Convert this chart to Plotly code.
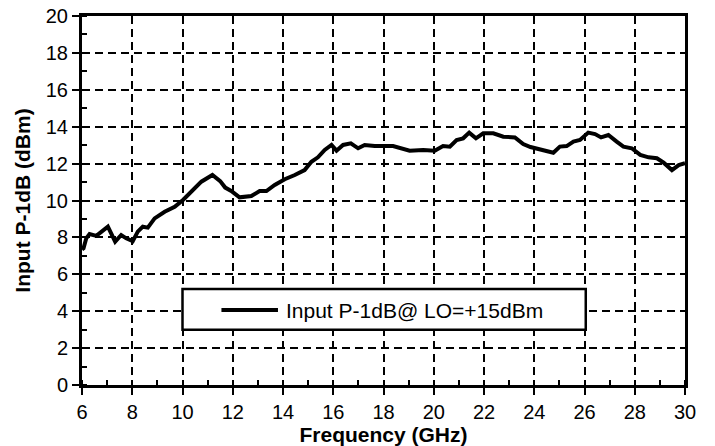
import plotly.graph_objects as go

freq_ghz = [6.0, 6.06, 6.17, 6.3, 6.57, 6.8, 7.03, 7.32, 7.56, 7.76, 8.02, 8.22, 8.42, 8.62,
            8.89, 9.29, 9.69, 10.02, 10.35, 10.75, 11.19, 11.5, 11.7, 11.94, 12.27, 12.74,
            13.07, 13.34, 13.67, 14.07, 14.47, 14.86, 15.13, 15.39, 15.66, 15.93, 16.13,
            16.39, 16.7, 16.99, 17.25, 17.65, 18.05, 18.38, 19.04, 19.58, 20.04, 20.37,
            20.64, 20.91, 21.17, 21.41, 21.68, 21.97, 22.37, 22.77, 23.23, 23.56, 23.85,
            24.36, 24.76, 25.02, 25.29, 25.56, 25.82, 26.15, 26.42, 26.66, 26.95, 27.28,
            27.55, 27.88, 28.22, 28.55, 28.88, 29.15, 29.48, 29.75, 30.0]
p1db_dbm = [7.35, 7.41, 7.95, 8.18, 8.08, 8.35, 8.58, 7.77, 8.13, 7.95, 7.80, 8.31, 8.58, 8.53,
            9.03, 9.39, 9.66, 10.03, 10.48, 11.02, 11.38, 11.05, 10.7, 10.52, 10.17, 10.24,
            10.51, 10.51, 10.84, 11.15, 11.38, 11.65, 12.10, 12.34, 12.74, 13.01, 12.70,
            13.01, 13.10, 12.83, 13.01, 12.95, 12.95, 12.95, 12.70, 12.74, 12.70, 12.95,
            12.92, 13.28, 13.37, 13.68, 13.37, 13.64, 13.64, 13.46, 13.42, 13.06, 12.90,
            12.74, 12.59, 12.92, 12.95, 13.19, 13.28, 13.68, 13.60, 13.42, 13.55, 13.19,
            12.92, 12.83, 12.47, 12.34, 12.29, 12.05, 11.65, 11.92, 12.02]

x_ticks = [6, 8, 10, 12, 14, 16, 18, 20, 22, 24, 26, 28, 30]
y_ticks = [0, 2, 4, 6, 8, 10, 12, 14, 16, 18, 20]
legend_label = "Input P-1dB@ LO=+15dBm"

FONT = "Liberation Sans, Arial, sans-serif"

fig = go.Figure()
fig.add_trace(go.Scatter(x=freq_ghz, y=p1db_dbm, mode="lines", name=legend_label,
                         line=dict(color="black", width=4), showlegend=False))

axis_common = dict(
    showline=True, linecolor="black", linewidth=3, mirror=True,
    showgrid=True, gridcolor="black", gridwidth=2, griddash="8px,5px",
    zeroline=False, ticks="outside", ticklen=7, tickwidth=2, tickcolor="black",
    tickfont=dict(family=FONT, size=20, color="black"),
    minor=dict(ticks="inside", ticklen=5, tickwidth=2, tickcolor="black", dtick=1, showgrid=False),
)

fig.update_xaxes(range=[6, 30], tickvals=x_ticks, **axis_common,
                 title=dict(text="<b>Frequency (GHz)</b>", standoff=2,
                            font=dict(family=FONT, size=21, color="black")))
fig.update_yaxes(range=[0, 20], tickvals=y_ticks, **axis_common,
                 title=dict(text="<b>Input P-1dB (dBm)</b>", standoff=10,
                            font=dict(family=FONT, size=21, color="black")))

# legend box drawn in data coordinates
fig.add_shape(type="rect", xref="x", yref="y", x0=10, x1=26.05, y0=3.0, y1=5.2,
              fillcolor="white", line=dict(color="black", width=2.5), layer="above")
fig.add_shape(type="line", xref="x", yref="y", x0=11.55, x1=13.8, y0=4.06, y1=4.06,
              line=dict(color="black", width=4), layer="above")
fig.add_annotation(x=14.05, y=4.06, xref="x", yref="y", text=legend_label, showarrow=False,
                   xanchor="left", yanchor="middle",
                   font=dict(family=FONT, size=21, color="black"))

fig.update_layout(
    width=715, height=446,
    margin=dict(l=82, r=30, t=16, b=61, autoexpand=False),
    paper_bgcolor="white", plot_bgcolor="white",
    showlegend=False,
)

fig.write_html("out.html")
